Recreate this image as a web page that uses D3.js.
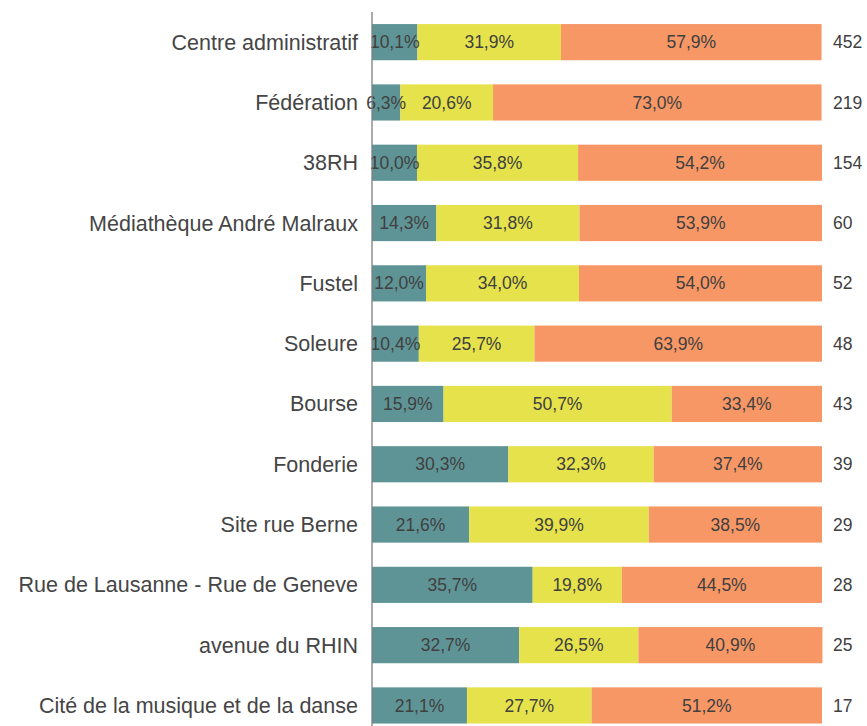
<!DOCTYPE html>
<html>
<head>
<meta charset="utf-8">
<script src="https://cdn.jsdelivr.net/npm/d3@7"></script>
<style>
  body { margin: 0; background: #fff; }
  text { font-family: "Liberation Sans", Arial, sans-serif; }
</style>
</head>
<body>
<div id="chart"></div>
<script>
const width = 867,
  height = 726,
  margin = { top: 12, left: 372, right: 45 };

const categories = [
  "Centre administratif", "Fédération", "38RH", "Médiathèque André Malraux",
  "Fustel", "Soleure", "Bourse", "Fonderie", "Site rue Berne",
  "Rue de Lausanne - Rue de Geneve", "avenue du RHIN", "Cité de la musique et de la danse"
];
const serie1 = [10.1, 6.3, 10.0, 14.3, 12.0, 10.4, 15.9, 30.3, 21.6, 35.7, 32.7, 21.1];
const serie2 = [31.9, 20.6, 35.8, 31.8, 34.0, 25.7, 50.7, 32.3, 39.9, 19.8, 26.5, 27.7];
const serie3 = [57.9, 73.0, 54.2, 53.9, 54.0, 63.9, 33.4, 37.4, 38.5, 44.5, 40.9, 51.2];
const totals = [452, 219, 154, 60, 52, 48, 43, 39, 29, 28, 25, 17];
const colors = ["#5f9496", "#e5e24b", "#f79766"];

const rows = categories.map((c, i) => {
  const vals = [serie1[i], serie2[i], serie3[i]];
  let acc = 0;
  return {
    cat: c,
    total: totals[i],
    segs: vals.map((v, k) => {
      const s = { k, x0: acc, x1: acc + v, v };
      acc += v;
      return s;
    })
  };
});

const svg = d3.select("#chart").append("svg")
  .attr("width", width)
  .attr("height", height);

const xScale = d3.scaleLinear()
  .domain([0, 100])
  .range([margin.left, width - margin.right]);

const step = 60.3;
const yScale = d3.scaleBand()
  .domain(categories)
  .range([margin.top, margin.top + step * categories.length])
  .paddingInner(0.4)
  .paddingOuter(0.2);

const fmt = v => v.toFixed(1).replace(".", ",") + "%";

const g = svg.selectAll(".row")
  .data(rows)
  .join("g")
  .attr("class", "row")
  .attr("transform", d => `translate(0,${yScale(d.cat)})`);

g.selectAll("rect")
  .data(d => d.segs)
  .join("rect")
  .attr("x", d => xScale(d.x0))
  .attr("width", d => xScale(d.x1) - xScale(d.x0))
  .attr("height", yScale.bandwidth())
  .attr("fill", d => colors[d.k]);

g.selectAll(".pct")
  .data(d => d.segs)
  .join("text")
  .attr("class", "pct")
  .attr("x", d => (xScale(d.x0) + xScale(d.x1)) / 2)
  .attr("y", yScale.bandwidth() / 2)
  .attr("dy", "0.35em")
  .attr("text-anchor", "middle")
  .attr("font-size", 17.5)
  .attr("fill", "#404040")
  .text(d => fmt(d.v));

g.append("text")
  .attr("x", margin.left - 14)
  .attr("y", yScale.bandwidth() / 2)
  .attr("dy", "0.35em")
  .attr("text-anchor", "end")
  .attr("font-size", 21.5)
  .attr("fill", "#454545")
  .text(d => d.cat);

g.append("text")
  .attr("x", xScale(100) + 11)
  .attr("y", yScale.bandwidth() / 2)
  .attr("dy", "0.35em")
  .attr("font-size", 17.5)
  .attr("fill", "#404040")
  .text(d => d.total);

svg.append("line")
  .attr("x1", margin.left).attr("x2", margin.left)
  .attr("y1", margin.top).attr("y2", height)
  .attr("stroke", "#7f7f7f")
  .attr("stroke-width", 1.3);
</script>
</body>
</html>
